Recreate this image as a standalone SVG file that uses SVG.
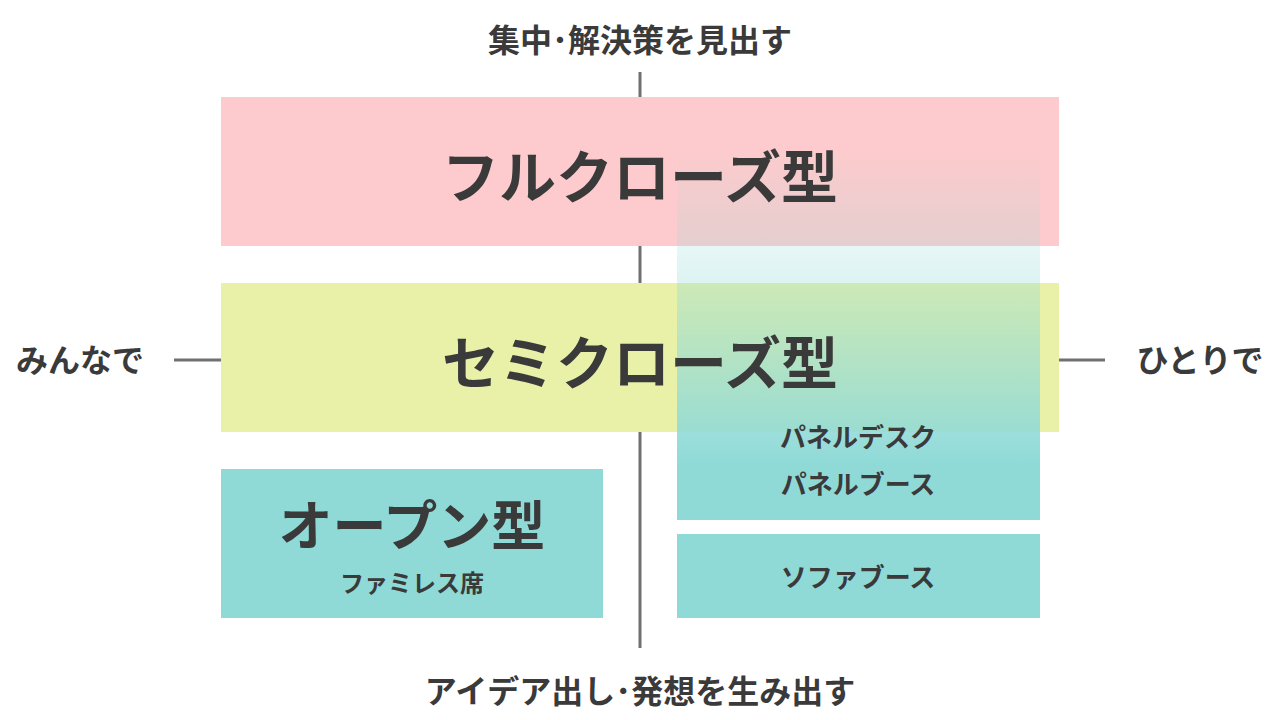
<svg xmlns="http://www.w3.org/2000/svg" width="1280" height="720" viewBox="0 0 1280 720">
<defs>
<linearGradient id="g" x1="0" y1="0" x2="0" y2="1">
<stop offset="0" stop-color="#8fdad7" stop-opacity="0"/>
<stop offset="0.35" stop-color="#8fdad7" stop-opacity="0.3"/>
<stop offset="0.85" stop-color="#8fdad7" stop-opacity="1"/>
<stop offset="1" stop-color="#8fdad7" stop-opacity="1"/>
</linearGradient>
<style>
text{font-family:"Noto Sans CJK JP","Noto Sans",sans-serif;fill:#3a3a3a;font-weight:700;text-anchor:middle}
.ax{font-size:32px;font-weight:600}
.big{font-size:57px}
.sm{font-size:26px;font-weight:600}
line{stroke:#707070;stroke-width:3}
</style>
</defs>
<rect width="1280" height="720" fill="#fff"/>
<g id="connectors">
<line x1="640" y1="72" x2="640" y2="648"/>
<line x1="174" y1="360" x2="221" y2="360"/>
<line x1="1059" y1="360" x2="1105" y2="360"/>
</g>
<g id="full"><rect x="221" y="97" width="838" height="149" fill="#fdcbcd"/></g>
<g id="semi"><rect x="221" y="283" width="838" height="149" fill="#e9f0a8"/></g>
<g id="panel"><rect x="677" y="150" width="363" height="370" fill="url(#g)"/></g>
<g id="sofa"><rect x="677" y="534" width="363" height="84" fill="#8fdad7"/><text class="sm" x="858" y="587">ソファブース</text></g>
<g id="open"><rect x="221" y="469" width="382" height="149" fill="#8fdad7"/><text x="412" y="546" style="font-size:54px">オープン型</text><text class="sm" x="412" y="592" style="font-size:24px">ファミレス席</text></g>
<text class="big" x="640" y="198">フルクローズ型</text>
<text class="big" x="640" y="384">セミクローズ型</text>
<text class="sm" x="858" y="447">パネルデスク</text>
<text class="sm" x="858" y="494">パネルブース</text>
<text class="ax" x="640" y="52">集中･解決策を見出す</text>
<text class="ax" x="640" y="703">アイデア出し･発想を生み出す</text>
<text class="ax" x="80" y="372">みんなで</text>
<text class="ax" x="1200" y="372">ひとりで</text>
</svg>
